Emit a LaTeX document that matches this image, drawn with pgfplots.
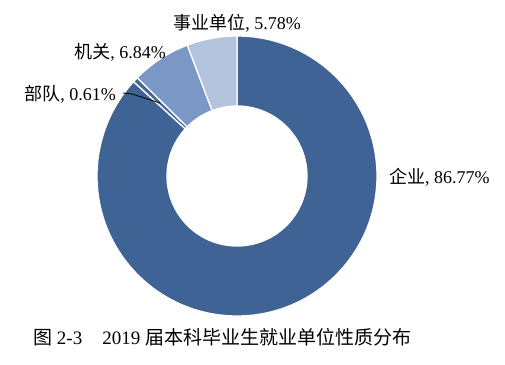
\documentclass[border=0pt]{standalone}
\usepackage{fontspec}
\setmainfont{Liberation Serif}
\newfontfamily\cjk{Noto Sans CJK SC}
\usepackage{pgfplots}
\pgfplotsset{compat=1.18}
\definecolor{cQiye}{RGB}{62,99,148}
\definecolor{cBudui}{RGB}{70,104,152}
\definecolor{cJiguan}{RGB}{122,151,197}
\definecolor{cShiye}{RGB}{180,195,221}
\begin{document}
\begin{tikzpicture}
\begin{axis}[x=1bp,y=1bp,xmin=0,xmax=505,ymin=0,ymax=364,hide axis,clip=false]
\coordinate (BL) at (axis cs:0,0);
\coordinate (TR) at (axis cs:505,364);
\gdef\s{90}
\foreach \v/\c in {86.77/cQiye,0.61/cBudui,6.84/cJiguan,5.78/cShiye}{
  \pgfmathsetmacro\e{\s-3.6*\v}
  \edef\temp{\noexpand\fill[\c,draw=white,line width=1.3bp] ([shift={(\s:140bp)}]axis cs:237,188) arc[start angle=\s, end angle=\e, radius=140bp] -- ([shift={(\e:70bp)}]axis cs:237,188) arc[start angle=\e, end angle=\s, radius=70bp] -- cycle;}
  \temp
  \xdef\s{\e}
}
\addplot[black, line width=0.8bp, no marks] coordinates {(123,271) (132,270) (160,261)};
\node[font=\fontsize{18bp}{20bp}\selectfont] at (axis cs:237,341) {{\cjk 事业单位}, 5.78\%};
\node[font=\fontsize{18bp}{20bp}\selectfont] at (axis cs:120,312) {{\cjk 机关}, 6.84\%};
\node[font=\fontsize{18bp}{20bp}\selectfont] at (axis cs:70,270) {{\cjk 部队}, 0.61\%};
\node[font=\fontsize{18bp}{20bp}\selectfont, anchor=west, inner sep=0pt] at (axis cs:389,187) {{\cjk 企业}, 86.77\%};
\node[font=\fontsize{19bp}{21bp}\selectfont, anchor=west, inner sep=0pt] at (axis cs:33,27) {{\cjk 图} 2-3\hspace{20bp}2019 {\cjk 届本科毕业生就业单位性质分布}};
\end{axis}
\pgfresetboundingbox
\path (BL) rectangle (TR);
\end{tikzpicture}
\end{document}
